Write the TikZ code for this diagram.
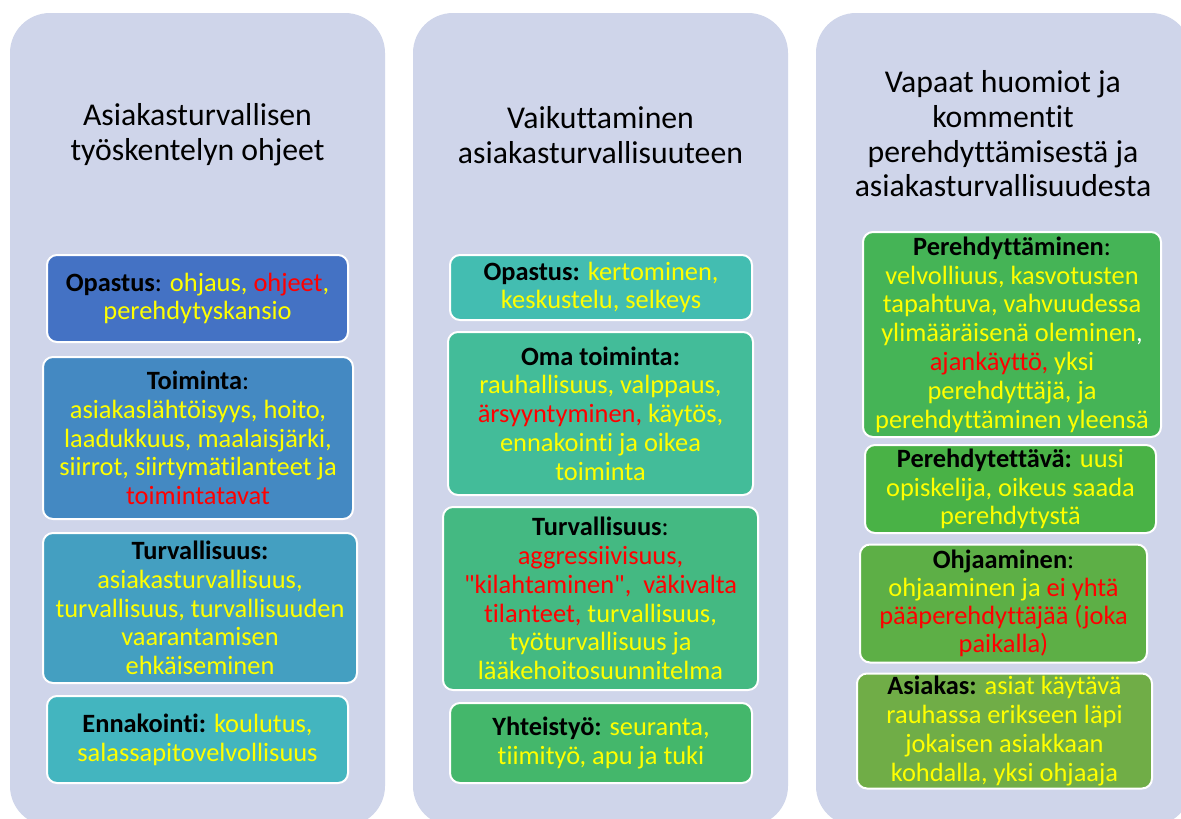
\documentclass[tikz,border=0pt]{standalone}
\usepackage{fontspec}
\setmainfont{Carlito}[Ligatures={NoCommon,TeXOff}]

\definecolor{panelbg}{HTML}{CFD5EA}
\definecolor{txtyellow}{HTML}{FFFF00}
\definecolor{txtred}{HTML}{FF0000}
\definecolor{boxa}{RGB}{68,114,196}
\definecolor{boxb}{RGB}{68,137,194}
\definecolor{boxc}{RGB}{68,159,193}
\definecolor{boxd}{RGB}{67,181,191}
\definecolor{boxe}{RGB}{67,189,177}
\definecolor{boxf}{RGB}{67,188,153}
\definecolor{boxg}{RGB}{68,185,130}
\definecolor{boxh}{RGB}{68,183,107}
\definecolor{boxi}{RGB}{69,180,86}
\definecolor{boxj}{RGB}{73,178,70}
\definecolor{boxk}{RGB}{93,175,70}
\definecolor{boxl}{RGB}{112,173,71}

\newcommand{\lbl}[1]{\textbf{\color{black}#1}}
\newcommand{\rd}[1]{{\color{txtred}#1}}
\newcommand{\bk}[1]{{\color{black}#1}}

\begin{document}
\begin{tikzpicture}[x=0.75pt, y=-0.75pt]
			\tikzstyle{panel} = [fill=panelbg, rounded corners=30pt]
			\tikzstyle{heading} = [align=center, inner sep=0pt, text=black, font=\fontsize{23.8}{26}\selectfont]
			\tikzstyle{item} = [draw=white, line width=1.5pt, rounded corners=7.5pt, inner sep=0pt, align=center, text=txtyellow, font=\fontsize{19.8}{21.6}\selectfont]

			\useasboundingbox (0,0) rectangle (1181,818);
			\fill[white] (0,0) rectangle (1181,818);

			% columns
			\fill[panel] (10,13) rectangle (385,826);
			\fill[panel] (413,13) rectangle (788,826);
			\fill[panel] (816,13) rectangle (1191,826);

			\begin{scope}
			\path
			node[heading] at (197.5,135) (ohjeet) {Asiakasturvallisen\\työskentelyn ohjeet}

			node[item, fill=boxa, minimum width=225.75pt, minimum height=65.25pt] at (197.5,298.5) (opastus1)
				{\lbl{Opastus}\bk{:} ohjaus, \rd{ohjeet},\\perehdytyskansio}
			node[item, fill=boxb, minimum width=232.5pt, minimum height=121.5pt] at (198,438) (toiminta1)
				{\lbl{Toiminta}\bk{:}\\asiakaslähtöisyys, hoito,\\laadukkuus, maalaisjärki,\\siirrot, siirtymätilanteet ja\\\rd{toimintatavat}}
			node[item, fill=boxc, minimum width=235.5pt, minimum height=112.5pt] at (200,608) (turva1)
				{\lbl{Turvallisuus:}\\asiakasturvallisuus,\\turvallisuus, turvallisuuden\\vaarantamisen\\ehkäiseminen}
			node[item, fill=boxd, minimum width=225.75pt, minimum height=65.25pt] at (197.5,739.5) (ennakointi1)
				{\lbl{Ennakointi:} koulutus,\\salassapitovelvollisuus}
			;
			\end{scope}

			\begin{scope}
			\path
			node[heading] at (600.5,135) (vaikuttaminen) {Vaikuttaminen\\asiakasturvallisuuteen}

			node[item, fill=boxe, minimum width=226.5pt, minimum height=48.75pt] at (601,287.5) (opastus2)
				{\lbl{Opastus:} kertominen,\\keskustelu, selkeys}
			node[item, fill=boxf, minimum width=228.75pt, minimum height=122.25pt] at (600.5,413.5) (oma2)
				{\lbl{Oma toiminta:}\\rauhallisuus, valppaus,\\\rd{ärsyyntyminen,} käytös,\\ennakointi ja oikea\\toiminta}
			node[item, fill=boxg, minimum width=236.25pt, minimum height=137.25pt] at (600.5,598.5) (turva2)
				{\lbl{Turvallisuus}\bk{:}\\\rd{aggressiivisuus,}\\\rd{"kilahtaminen",\ \ väkivalta}\\\rd{tilanteet,} turvallisuus,\\työturvallisuus ja\\lääkehoitosuunnitelma}
			node[item, fill=boxh, minimum width=226.5pt, minimum height=60pt] at (601,743) (yhteistyo2)
				{\lbl{Yhteistyö:} seuranta,\\tiimityö, apu ja tuki}
			;
			\end{scope}

			\begin{scope}
			\path
			node[heading] at (1003,134) (huomiot) {Vapaat huomiot ja\\kommentit\\perehdyttämisestä ja\\asiakasturvallisuudesta}

			node[item, fill=boxi, minimum width=223.5pt, minimum height=153.75pt] at (1012,334.5) (pere3)
				{\lbl{Perehdyttäminen}\bk{:}\\velvolliuus, kasvotusten\\tapahtuva, vahvuudessa\\ylimääräisenä oleminen{\color{white},}\\\rd{ajankäyttö,} yksi\\perehdyttäjä, ja\\perehdyttäminen yleensä}
			node[item, fill=boxj, minimum width=218.25pt, minimum height=66pt] at (1010.5,489) (perehdytettava3)
				{\lbl{Perehdytettävä:} uusi\\opiskelija, oikeus saada\\perehdytystä}
			node[item, fill=boxk, minimum width=215.25pt, minimum height=88.5pt, font=\fontsize{19.8}{20.9}\selectfont] at (1003.5,603.5) (ohjaaminen3)
				{\lbl{Ohjaaminen}\bk{:}\\ohjaaminen ja \rd{ei yhtä}\\\rd{pääperehdyttäjää (joka}\\\rd{paikalla)}}
			node[item, fill=boxl, minimum width=221.25pt, minimum height=86.25pt] at (1004.5,731) (asiakas3)
				{\lbl{Asiakas:} asiat käytävä\\rauhassa erikseen läpi\\jokaisen asiakkaan\\kohdalla, yksi ohjaaja}
			;
			\end{scope}

\end{tikzpicture}
\end{document}
